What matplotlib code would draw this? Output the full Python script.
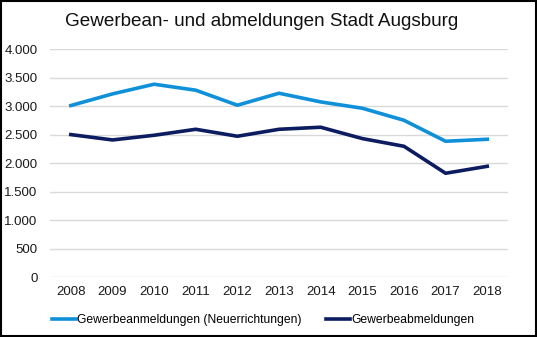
import matplotlib
matplotlib.use("Agg")
import matplotlib.pyplot as plt
from matplotlib.ticker import FuncFormatter

plt.rcParams['font.family'] = ['Liberation Sans', 'DejaVu Sans']

years = ['2008', '2009', '2010', '2011', '2012', '2013', '2014', '2015', '2016', '2017', '2018']
anmeldungen = [3012, 3216, 3386, 3281, 3018, 3228, 3076, 2965, 2754, 2386, 2421]
abmeldungen = [2503, 2409, 2491, 2596, 2474, 2596, 2632, 2433, 2298, 1825, 1947]
label_an = 'Gewerbeanmeldungen (Neuerrichtungen)'
label_ab = 'Gewerbeabmeldungen'
title = 'Gewerbean- und abmeldungen Stadt Augsburg'

fig = plt.figure(figsize=(5.37, 3.37), dpi=100)
ax = fig.add_axes([0.0931, 0.177, 0.853, 0.677])

x = range(len(years))
ax.plot(x, anmeldungen, color='#0f90d8', lw=2.6, label=label_an, solid_joinstyle='round')
ax.plot(x, abmeldungen, color='#0c1c60', lw=2.6, label=label_ab, solid_joinstyle='round')

ax.set_xlim(-0.5, len(years) - 0.5)
ax.set_ylim(0, 4000)
ax.set_yticks(range(0, 4001, 500))
ax.yaxis.set_major_formatter(FuncFormatter(lambda v, p: '{:,.0f}'.format(v).replace(',', '.')))
ax.set_xticks(list(x))
ax.set_xticklabels(years)
ax.grid(axis='y', color='#d9d9d9', lw=1)
ax.set_axisbelow(True)
for s in ax.spines.values():
    s.set_visible(False)
ax.tick_params(length=0, labelsize=9.5, colors='#1a1a1a', pad=6)
ax.tick_params(axis='y', pad=9)

fig.text(0.488, 0.935, title, ha='center', va='center', fontsize=13.6, color='#111111')

fig.legend(loc='center', bbox_to_anchor=(0.49, 0.05), ncol=2, frameon=False,
           fontsize=8.7, handlelength=2.0, handletextpad=0.1, columnspacing=2.0)

# outer frame
fig.patches.append(plt.Rectangle((0.001, 0.002), 0.997, 0.995, transform=fig.transFigure,
                                 fill=False, edgecolor='black', lw=1.5))

fig.savefig('out.png', dpi=100)
